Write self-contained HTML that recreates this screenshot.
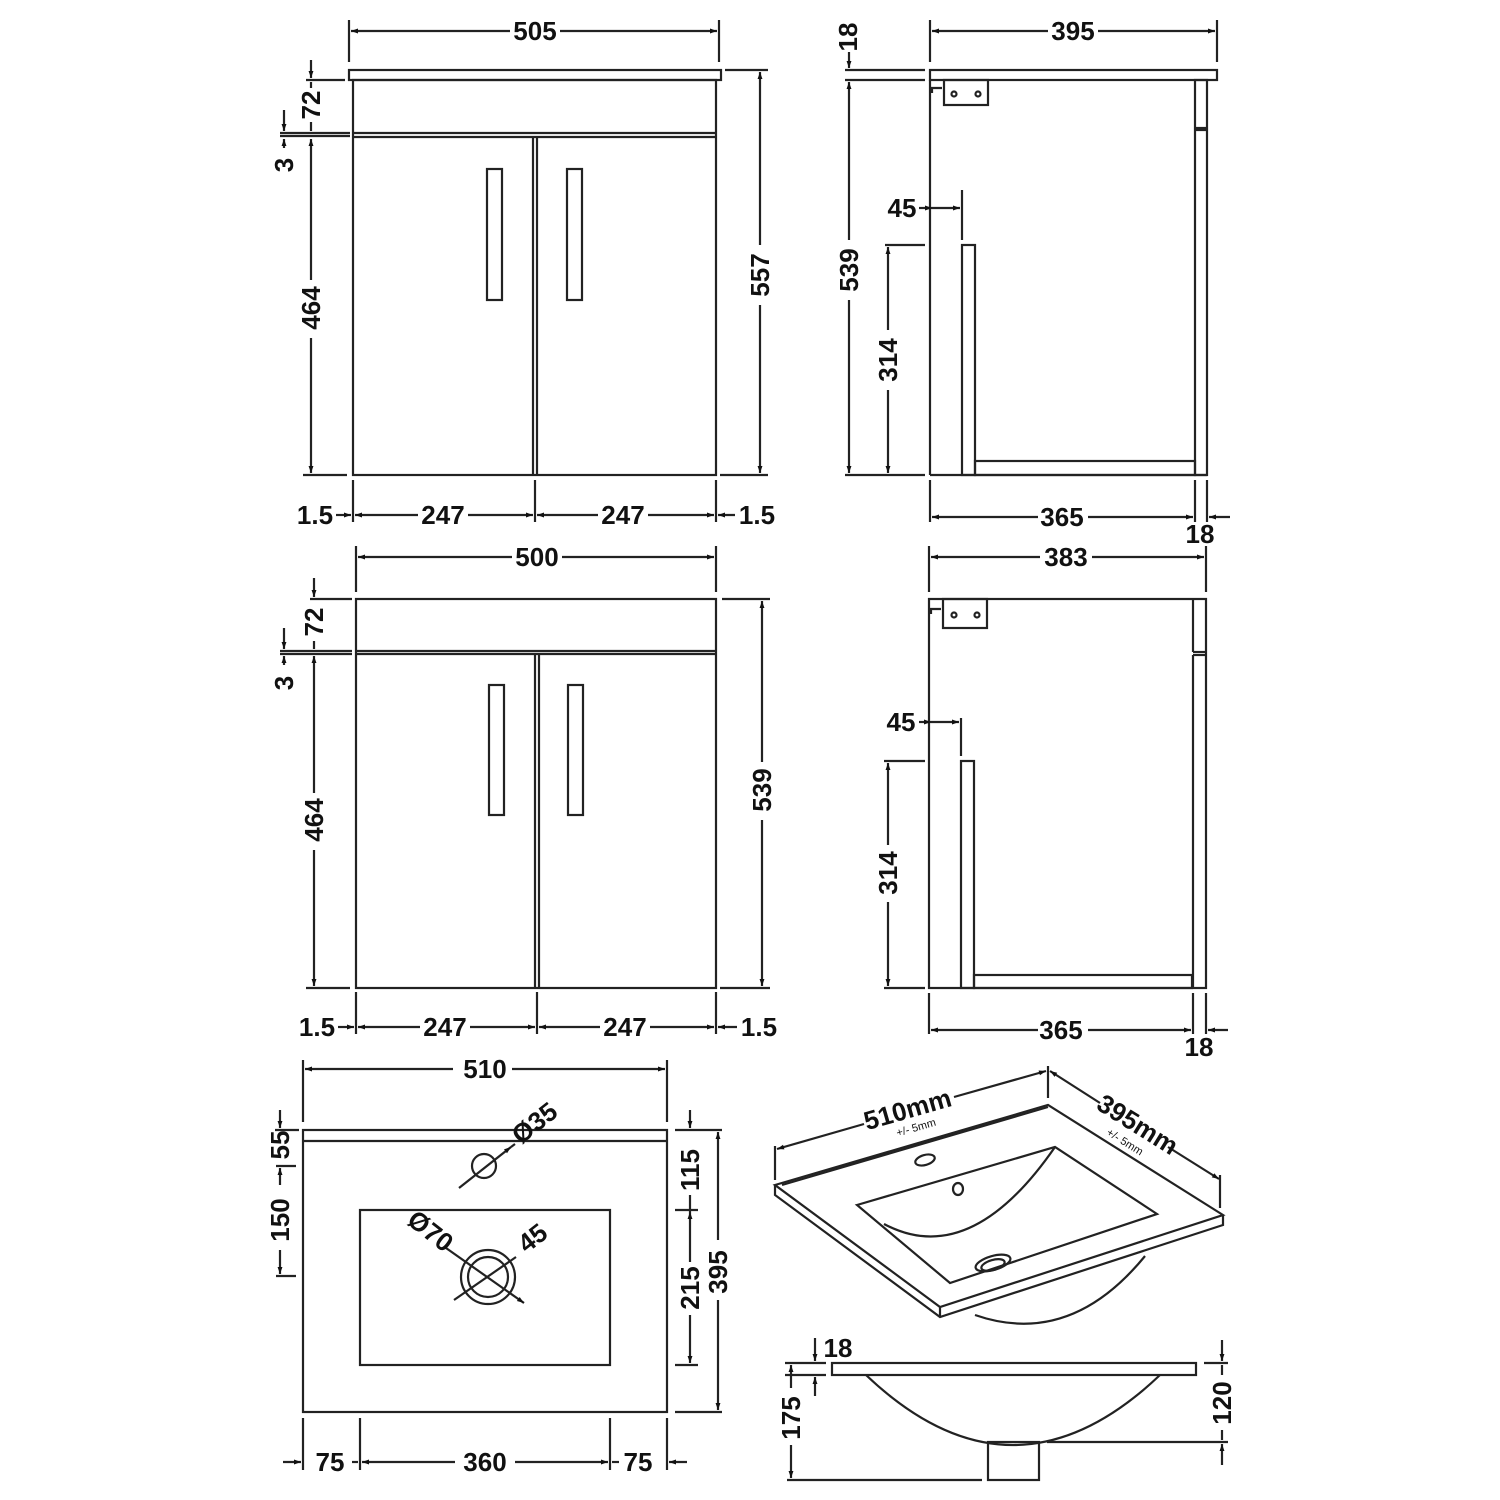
<!DOCTYPE html>
<html><head><meta charset="utf-8"><style>
html,body{margin:0;padding:0;background:#fff}
svg{display:block}
text{font-family:"Liberation Sans",sans-serif;font-weight:bold;font-size:26px;fill:#111}
</style></head><body>
<svg width="1500" height="1500" viewBox="0 0 1500 1500" xmlns="http://www.w3.org/2000/svg">
<defs>
<marker id="a" viewBox="0 0 10 10" refX="10" refY="5" markerWidth="10" markerHeight="7" markerUnits="userSpaceOnUse" orient="auto-start-reverse"><path d="M0,1.5 L10,5 L0,8.5 z" fill="#111"/></marker>
</defs>
<g stroke="#222" stroke-width="2.2" fill="none">
<!-- FRONT VIEW 1 -->
<rect x="349" y="70" width="372" height="10"/>
<rect x="353" y="80" width="363" height="395"/>
<line x1="353" y1="133" x2="716" y2="133"/><line x1="353" y1="137" x2="716" y2="137"/>
<line x1="533" y1="137" x2="533" y2="475"/><line x1="537" y1="137" x2="537" y2="475"/>
<rect x="487" y="169" width="15" height="131"/><rect x="567" y="169" width="15" height="131"/>
<line x1="349" y1="20" x2="349" y2="62"/><line x1="719" y1="20" x2="719" y2="62"/>
<line x1="351" y1="31" x2="510" y2="31" marker-start="url(#a)"/><line x1="560" y1="31" x2="717" y2="31" marker-end="url(#a)"/>
<line x1="725" y1="70" x2="768" y2="70"/><line x1="720" y1="475" x2="768" y2="475"/>
<line x1="760" y1="72" x2="760" y2="245" marker-start="url(#a)"/><line x1="760" y1="305" x2="760" y2="473" marker-end="url(#a)"/>
<line x1="306" y1="80" x2="345" y2="80"/><line x1="280" y1="133" x2="350" y2="133"/><line x1="280" y1="136" x2="350" y2="136"/>
<line x1="311" y1="60" x2="311" y2="78" marker-end="url(#a)"/><line x1="311" y1="82" x2="311" y2="88"/><line x1="311" y1="122" x2="311" y2="131"/>
<line x1="284" y1="110" x2="284" y2="131" marker-end="url(#a)"/><line x1="284" y1="139" x2="284" y2="148" marker-start="url(#a)"/>
<line x1="311" y1="139" x2="311" y2="280" marker-start="url(#a)"/><line x1="311" y1="338" x2="311" y2="473" marker-end="url(#a)"/>
<line x1="303" y1="475" x2="347" y2="475"/>
<line x1="353" y1="480" x2="353" y2="522"/><line x1="535" y1="480" x2="535" y2="522"/><line x1="716" y1="480" x2="716" y2="522"/>
<line x1="336" y1="515" x2="351" y2="515" marker-end="url(#a)"/>
<line x1="355" y1="515" x2="418" y2="515" marker-start="url(#a)"/><line x1="468" y1="515" x2="533" y2="515" marker-end="url(#a)"/>
<line x1="537" y1="515" x2="598" y2="515" marker-start="url(#a)"/><line x1="648" y1="515" x2="714" y2="515" marker-end="url(#a)"/>
<line x1="718" y1="515" x2="735" y2="515" marker-start="url(#a)"/>

<!-- FRONT VIEW 2 -->
<rect x="356" y="599" width="360" height="389"/>
<line x1="356" y1="651" x2="716" y2="651"/><line x1="356" y1="654" x2="716" y2="654"/>
<line x1="535" y1="654" x2="535" y2="988"/><line x1="539" y1="654" x2="539" y2="988"/>
<rect x="489" y="685" width="15" height="130"/><rect x="568" y="685" width="15" height="130"/>
<line x1="356" y1="546" x2="356" y2="592"/><line x1="716" y1="546" x2="716" y2="592"/>
<line x1="358" y1="557" x2="512" y2="557" marker-start="url(#a)"/><line x1="562" y1="557" x2="714" y2="557" marker-end="url(#a)"/>
<line x1="722" y1="599" x2="770" y2="599"/><line x1="720" y1="988" x2="770" y2="988"/>
<line x1="762" y1="601" x2="762" y2="762" marker-start="url(#a)"/><line x1="762" y1="820" x2="762" y2="986" marker-end="url(#a)"/>
<line x1="310" y1="599" x2="352" y2="599"/><line x1="280" y1="651" x2="352" y2="651"/><line x1="280" y1="654" x2="352" y2="654"/>
<line x1="314" y1="578" x2="314" y2="597" marker-end="url(#a)"/><line x1="314" y1="641" x2="314" y2="649"/>
<line x1="284" y1="628" x2="284" y2="649" marker-end="url(#a)"/><line x1="284" y1="656" x2="284" y2="665" marker-start="url(#a)"/>
<line x1="314" y1="656" x2="314" y2="793" marker-start="url(#a)"/><line x1="314" y1="850" x2="314" y2="986" marker-end="url(#a)"/>
<line x1="306" y1="988" x2="350" y2="988"/>
<line x1="356" y1="992" x2="356" y2="1034"/><line x1="537" y1="992" x2="537" y2="1034"/><line x1="716" y1="992" x2="716" y2="1034"/>
<line x1="338" y1="1027" x2="354" y2="1027" marker-end="url(#a)"/>
<line x1="358" y1="1027" x2="420" y2="1027" marker-start="url(#a)"/><line x1="470" y1="1027" x2="535" y2="1027" marker-end="url(#a)"/>
<line x1="539" y1="1027" x2="600" y2="1027" marker-start="url(#a)"/><line x1="650" y1="1027" x2="714" y2="1027" marker-end="url(#a)"/>
<line x1="718" y1="1027" x2="737" y2="1027" marker-start="url(#a)"/>

<!-- SIDE VIEW 1 -->
<rect x="930" y="70" width="287" height="10"/>
<line x1="930" y1="80" x2="930" y2="475"/><line x1="930" y1="475" x2="1207" y2="475"/>
<rect x="1195" y="80" width="12" height="48"/><rect x="1195" y="130" width="12" height="345"/>
<rect x="962" y="245" width="13" height="230"/>
<rect x="975" y="461" width="220" height="14"/>
<rect x="944" y="80" width="44" height="25"/>
<circle cx="954" cy="94" r="2.5"/><circle cx="978" cy="94" r="2.5"/>
<path d="M932,93 L932,88 L942,88"/>
<line x1="930" y1="20" x2="930" y2="62"/><line x1="1217" y1="20" x2="1217" y2="62"/>
<line x1="932" y1="31" x2="1048" y2="31" marker-start="url(#a)"/><line x1="1098" y1="31" x2="1215" y2="31" marker-end="url(#a)"/>
<line x1="845" y1="70" x2="925" y2="70"/><line x1="845" y1="80" x2="925" y2="80"/>
<line x1="849" y1="52" x2="849" y2="68" marker-end="url(#a)"/>
<line x1="849" y1="82" x2="849" y2="240" marker-start="url(#a)"/><line x1="849" y1="300" x2="849" y2="473" marker-end="url(#a)"/>
<line x1="845" y1="475" x2="925" y2="475"/>
<line x1="885" y1="245" x2="925" y2="245"/>
<line x1="888" y1="247" x2="888" y2="330" marker-start="url(#a)"/><line x1="888" y1="390" x2="888" y2="473" marker-end="url(#a)"/>
<line x1="962" y1="190" x2="962" y2="240"/>
<line x1="919" y1="208" x2="932" y2="208" marker-end="url(#a)"/><line x1="932" y1="208" x2="960" y2="208" marker-end="url(#a)"/>
<line x1="930" y1="480" x2="930" y2="522"/><line x1="1195" y1="480" x2="1195" y2="522"/><line x1="1207" y1="480" x2="1207" y2="522"/>
<line x1="932" y1="517" x2="1038" y2="517" marker-start="url(#a)"/><line x1="1088" y1="517" x2="1193" y2="517" marker-end="url(#a)"/>
<line x1="1230" y1="517" x2="1209" y2="517" marker-end="url(#a)"/>

<!-- SIDE VIEW 2 -->
<rect x="929" y="599" width="277" height="389"/>
<line x1="1193" y1="599" x2="1193" y2="652"/><line x1="1193" y1="652" x2="1206" y2="652"/>
<line x1="1193" y1="655" x2="1206" y2="655"/><line x1="1193" y1="655" x2="1193" y2="988"/>
<rect x="961" y="761" width="13" height="227"/>
<rect x="974" y="975" width="218" height="13"/>
<rect x="943" y="599" width="44" height="29"/>
<circle cx="954" cy="615" r="2.5"/><circle cx="977" cy="615" r="2.5"/>
<path d="M931,614 L931,609 L941,609"/>
<line x1="929" y1="546" x2="929" y2="592"/><line x1="1206" y1="546" x2="1206" y2="592"/>
<line x1="931" y1="557" x2="1040" y2="557" marker-start="url(#a)"/><line x1="1092" y1="557" x2="1204" y2="557" marker-end="url(#a)"/>
<line x1="884" y1="761" x2="925" y2="761"/><line x1="884" y1="988" x2="925" y2="988"/>
<line x1="888" y1="763" x2="888" y2="845" marker-start="url(#a)"/><line x1="888" y1="902" x2="888" y2="986" marker-end="url(#a)"/>
<line x1="961" y1="718" x2="961" y2="756"/>
<line x1="919" y1="722" x2="931" y2="722" marker-end="url(#a)"/><line x1="931" y1="722" x2="959" y2="722" marker-end="url(#a)"/>
<line x1="929" y1="993" x2="929" y2="1034"/><line x1="1193" y1="993" x2="1193" y2="1034"/><line x1="1206" y1="993" x2="1206" y2="1034"/>
<line x1="931" y1="1030" x2="1038" y2="1030" marker-start="url(#a)"/><line x1="1088" y1="1030" x2="1191" y2="1030" marker-end="url(#a)"/>
<line x1="1228" y1="1030" x2="1208" y2="1030" marker-end="url(#a)"/>

<!-- BASIN TOP -->
<rect x="303" y="1130" width="364" height="282"/>
<line x1="303" y1="1141" x2="667" y2="1141"/>
<rect x="360" y="1210" width="250" height="155"/>
<circle cx="484" cy="1166" r="12"/>
<line x1="459" y1="1188" x2="511" y2="1147" marker-end="url(#a)"/><line x1="511" y1="1147" x2="515" y2="1144"/>
<circle cx="488" cy="1277" r="27"/><circle cx="488" cy="1277" r="20"/>
<line x1="446" y1="1248" x2="524" y2="1303" marker-end="url(#a)"/>
<line x1="454" y1="1300" x2="516" y2="1257"/>
<line x1="303" y1="1060" x2="303" y2="1122"/><line x1="667" y1="1060" x2="667" y2="1122"/>
<line x1="305" y1="1069" x2="453" y2="1069" marker-start="url(#a)"/><line x1="512" y1="1069" x2="665" y2="1069" marker-end="url(#a)"/>
<line x1="275" y1="1130" x2="299" y2="1130"/>
<line x1="280" y1="1110" x2="280" y2="1128" marker-end="url(#a)"/>
<line x1="276" y1="1166" x2="296" y2="1166"/>
<line x1="280" y1="1168" x2="280" y2="1185" marker-start="url(#a)"/>
<line x1="280" y1="1250" x2="280" y2="1274" marker-end="url(#a)"/>
<line x1="276" y1="1276" x2="296" y2="1276"/>
<line x1="675" y1="1130" x2="722" y2="1130"/><line x1="675" y1="1210" x2="698" y2="1210"/><line x1="675" y1="1365" x2="698" y2="1365"/><line x1="675" y1="1412" x2="722" y2="1412"/>
<line x1="690" y1="1110" x2="690" y2="1128" marker-end="url(#a)"/><line x1="690" y1="1195" x2="690" y2="1212"/>
<line x1="690" y1="1212" x2="690" y2="1262" marker-start="url(#a)"/><line x1="690" y1="1315" x2="690" y2="1363" marker-end="url(#a)"/>
<line x1="718" y1="1132" x2="718" y2="1240" marker-start="url(#a)"/><line x1="718" y1="1300" x2="718" y2="1410" marker-end="url(#a)"/>
<line x1="303" y1="1418" x2="303" y2="1470"/><line x1="360" y1="1418" x2="360" y2="1470"/><line x1="610" y1="1418" x2="610" y2="1470"/><line x1="667" y1="1418" x2="667" y2="1470"/>
<line x1="283" y1="1462" x2="301" y2="1462" marker-end="url(#a)"/>
<line x1="352" y1="1462" x2="358" y2="1462"/>
<line x1="362" y1="1462" x2="455" y2="1462" marker-start="url(#a)"/><line x1="515" y1="1462" x2="608" y2="1462" marker-end="url(#a)"/>
<line x1="612" y1="1462" x2="619" y2="1462"/>
<line x1="687" y1="1462" x2="669" y2="1462" marker-end="url(#a)"/>

<!-- ISOMETRIC -->
<path d="M775,1185 L1048,1105 L1223,1215 L940,1307 Z"/>
<path d="M775,1185 L775,1195 L940,1317 L1223,1225 L1223,1215"/>
<line x1="940" y1="1307" x2="940" y2="1317"/>
<line x1="782" y1="1185" x2="1048" y2="1107"/>
<path d="M857,1205 L1055,1147 L1157,1214 L950,1283 Z"/>
<path d="M884,1224 Q970,1270 1055,1147" />
<path d="M975,1315 Q1070,1348 1145,1256"/>
<ellipse cx="925" cy="1160" rx="10" ry="5" transform="rotate(-16 925 1160)"/>
<ellipse cx="958" cy="1189" rx="5" ry="6"/>
<ellipse cx="993" cy="1263" rx="18" ry="7" transform="rotate(-16 993 1263)"/>
<ellipse cx="993" cy="1265" rx="12" ry="5" transform="rotate(-16 993 1265)"/>
<line x1="775" y1="1146" x2="775" y2="1180"/><line x1="1048" y1="1066" x2="1048" y2="1098"/><line x1="1220" y1="1175" x2="1220" y2="1208"/>
<line x1="777" y1="1149" x2="864" y2="1124" marker-start="url(#a)"/><line x1="954" y1="1097" x2="1046" y2="1071" marker-end="url(#a)"/>
<line x1="1050" y1="1071" x2="1100" y2="1103" marker-start="url(#a)"/><line x1="1168" y1="1147" x2="1219" y2="1179" marker-end="url(#a)"/>

<!-- SECTION -->
<rect x="832" y="1363" width="364" height="12"/>
<path d="M866,1375 Q1013,1515 1160,1375"/>
<rect x="988" y="1442" width="51" height="38"/>
<line x1="785" y1="1363" x2="826" y2="1363"/><line x1="785" y1="1375" x2="826" y2="1375"/>
<line x1="815" y1="1338" x2="815" y2="1361" marker-end="url(#a)"/><line x1="815" y1="1377" x2="815" y2="1396" marker-start="url(#a)"/>
<line x1="791" y1="1365" x2="791" y2="1388" marker-start="url(#a)"/><line x1="791" y1="1445" x2="791" y2="1478" marker-end="url(#a)"/>
<line x1="787" y1="1480" x2="982" y2="1480"/>
<line x1="1204" y1="1363" x2="1228" y2="1363"/><line x1="1047" y1="1442" x2="1228" y2="1442"/>
<line x1="1222" y1="1340" x2="1222" y2="1361" marker-end="url(#a)"/><line x1="1222" y1="1365" x2="1222" y2="1375"/>
<line x1="1222" y1="1430" x2="1222" y2="1440"/><line x1="1222" y1="1465" x2="1222" y2="1444" marker-end="url(#a)"/>
</g>

<!-- TEXT -->
<text x="535" y="40" text-anchor="middle">505</text>
<text transform="translate(769,275) rotate(-90)" text-anchor="middle">557</text>
<text transform="translate(320,105) rotate(-90)" text-anchor="middle">72</text>
<text transform="translate(293,165) rotate(-90)" text-anchor="middle">3</text>
<text transform="translate(320,308) rotate(-90)" text-anchor="middle">464</text>
<text x="315" y="524" text-anchor="middle">1.5</text>
<text x="443" y="524" text-anchor="middle">247</text>
<text x="623" y="524" text-anchor="middle">247</text>
<text x="757" y="524" text-anchor="middle">1.5</text>

<text x="537" y="566" text-anchor="middle">500</text>
<text transform="translate(771,790) rotate(-90)" text-anchor="middle">539</text>
<text transform="translate(323,622) rotate(-90)" text-anchor="middle">72</text>
<text transform="translate(293,683) rotate(-90)" text-anchor="middle">3</text>
<text transform="translate(323,820) rotate(-90)" text-anchor="middle">464</text>
<text x="317" y="1036" text-anchor="middle">1.5</text>
<text x="445" y="1036" text-anchor="middle">247</text>
<text x="625" y="1036" text-anchor="middle">247</text>
<text x="759" y="1036" text-anchor="middle">1.5</text>

<text x="1073" y="40" text-anchor="middle">395</text>
<text transform="translate(857,37) rotate(-90)" text-anchor="middle">18</text>
<text transform="translate(858,270) rotate(-90)" text-anchor="middle">539</text>
<text transform="translate(897,360) rotate(-90)" text-anchor="middle">314</text>
<text x="902" y="217" text-anchor="middle">45</text>
<text x="1062" y="526" text-anchor="middle">365</text>
<text x="1200" y="543" text-anchor="middle">18</text>

<text x="1066" y="566" text-anchor="middle">383</text>
<text x="901" y="731" text-anchor="middle">45</text>
<text transform="translate(897,873) rotate(-90)" text-anchor="middle">314</text>
<text x="1061" y="1039" text-anchor="middle">365</text>
<text x="1199" y="1056" text-anchor="middle">18</text>

<text x="485" y="1078" text-anchor="middle">510</text>
<text transform="translate(289,1145) rotate(-90)" text-anchor="middle">55</text>
<text transform="translate(289,1220) rotate(-90)" text-anchor="middle">150</text>
<text transform="translate(699,1170) rotate(-90)" text-anchor="middle">115</text>
<text transform="translate(699,1288) rotate(-90)" text-anchor="middle">215</text>
<text transform="translate(727,1272) rotate(-90)" text-anchor="middle">395</text>
<text x="330" y="1471" text-anchor="middle">75</text>
<text x="485" y="1471" text-anchor="middle">360</text>
<text x="638" y="1471" text-anchor="middle">75</text>
<text transform="translate(540,1130) rotate(-38)" text-anchor="middle">Ø35</text>
<text transform="translate(425,1238) rotate(38)" text-anchor="middle">Ø70</text>
<text transform="translate(538,1245) rotate(-38)" text-anchor="middle">45</text>

<text transform="translate(910,1118) rotate(-16)" text-anchor="middle">510mm</text>
<text transform="translate(917,1131) rotate(-16)" text-anchor="middle" style="font-size:11px;font-weight:normal">+/- 5mm</text>
<text transform="translate(1133,1132) rotate(32)" text-anchor="middle">395mm</text>
<text transform="translate(1123,1145) rotate(32)" text-anchor="middle" style="font-size:11px;font-weight:normal">+/- 5mm</text>

<text x="838" y="1357" text-anchor="middle">18</text>
<text transform="translate(800,1418) rotate(-90)" text-anchor="middle">175</text>
<text transform="translate(1231,1403) rotate(-90)" text-anchor="middle">120</text>
</svg>
</body></html>
